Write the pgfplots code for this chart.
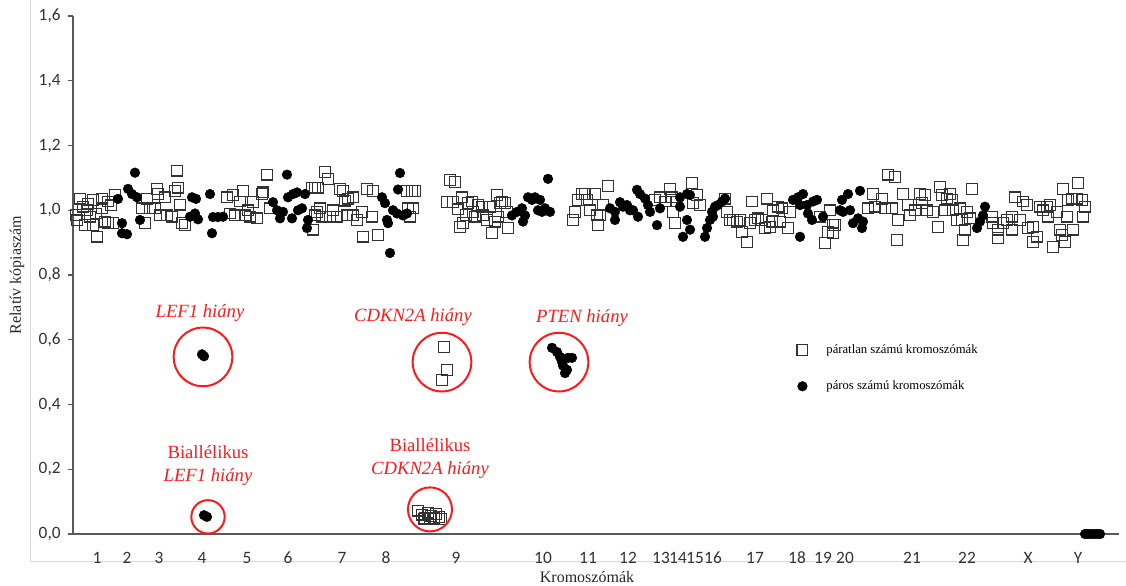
\documentclass[border=0pt]{standalone}
\usepackage{fontspec}
\setmainfont{Liberation Serif}
\newfontfamily\carlito{Carlito}
\usepackage{pgfplots}
\usepackage{pgfplotstable}
\pgfplotsset{compat=1.18}
\definecolor{axisgray}{HTML}{595959}
\definecolor{ticktext}{HTML}{333333}
\definecolor{annred}{HTML}{FF1A1A}

% odd-numbered chromosomes (plus X): genomic position (chart units) and relative copy number
\pgfplotstableread{
x v
76 0.985
77 0.969
80 1.036
83 1.011
85 0.954
87 1.000
88 1.020
90 0.980
93 1.032
93 0.954
96 0.990
97 0.918
102 1.036
102 1.006
105 0.965
108 1.027
108 0.960
111 1.015
113 0.960
115 1.047
142 1.006
145 0.960
147 1.036
150 1.006
155 1.006
157 1.066
158 1.050
160 0.984
165 1.040
167 0.984
172 0.980
175 1.060
177 1.122
178 1.070
180 1.017
182 0.960
185 0.954
227 1.040
230 0.990
233 1.047
235 0.984
240 1.027
243 1.060
245 0.984
248 1.000
250 0.980
253 1.025
257 0.975
262 1.050
263 1.055
267 1.110
270 1.006
312 1.070
313 0.940
315 1.070
315 0.984
317 0.995
318 1.070
320 1.006
322 0.980
325 1.118
328 1.096
330 0.980
333 1.000
337 0.980
340 1.066
343 1.060
345 1.030
347 0.984
348 1.036
353 1.040
353 0.984
357 0.970
362 0.995
363 0.918
367 1.066
372 0.980
373 1.060
378 0.923
407 1.060
408 1.006
410 0.980
412 1.060
413 1.006
415 1.060
447 1.025
450 1.093
453 1.025
455 1.087
458 1.003
460 0.948
462 1.040
463 0.960
466 0.985
468 1.022
472 1.027
473 0.995
475 0.980
478 1.016
482 1.011
483 0.984
487 0.970
490 1.011
492 0.930
495 0.965
497 1.047
498 0.980
500 1.022
502 1.027
505 1.022
507 0.995
508 0.945
444 0.578
447 0.507
442 0.476
418 0.072
422 0.060
424 0.046
425 0.050
428 0.066
430 0.046
431 0.056
434 0.048
436 0.062
439 0.052
441 0.046
573 0.970
575 0.995
578 1.032
582 1.050
585 1.050
587 1.032
590 1.000
595 1.050
597 0.984
598 0.954
600 0.984
603 1.016
608 1.075
655 1.032
660 1.040
665 1.027
670 1.066
672 1.040
673 0.995
675 0.960
677 1.027
692 1.084
693 1.022
697 1.047
700 1.016
725 1.036
727 0.995
730 0.970
733 0.970
737 0.965
740 0.970
742 0.933
747 0.902
750 0.960
752 1.027
755 0.970
758 0.975
762 0.970
765 0.945
767 1.036
770 0.948
772 0.965
773 1.000
778 1.011
780 0.965
782 1.006
788 0.945
790 0.995
820 0.980
825 0.899
828 0.933
830 1.000
833 0.954
833 0.929
835 0.954
868 1.006
873 1.050
875 1.011
882 1.036
885 1.006
888 1.110
892 1.006
895 1.103
897 0.908
898 0.970
903 1.050
908 1.016
910 0.984
915 1.000
920 1.050
922 1.022
925 1.047
927 1.000
933 0.995
938 0.948
940 1.072
942 1.047
945 1.000
947 1.036
950 1.050
952 1.032
953 1.000
957 0.970
960 1.006
962 0.970
963 0.908
965 0.940
967 0.995
970 0.975
972 1.066
992 0.980
993 0.960
998 0.940
998 0.914
1003 0.960
1007 0.970
1012 0.980
1012 0.940
1015 1.040
1020 0.970
1023 1.027
1027 1.016
1028 0.945
1033 0.948
1033 0.902
1037 0.918
1040 1.011
1043 1.000
1047 1.011
1048 0.980
1050 1.016
1053 0.887
1057 0.995
1060 0.940
1062 0.924
1063 1.066
1065 0.902
1067 0.980
1068 1.032
1072 1.036
1073 0.940
1077 1.036
1078 1.084
1082 1.032
1083 0.980
1085 1.011
}\oddchr

% even-numbered chromosomes (plus Y)
\pgfplotstableread{
x v
118 1.035
122 0.960
122 0.929
127 0.926
128 1.066
132 1.050
135 1.116
137 1.040
140 0.970
190 0.980
192 1.040
195 0.990
196 1.035
198 0.972
210 1.050
212 0.929
213 0.979
218 0.979
223 0.980
202 0.555
204 0.549
204 0.058
207 0.053
273 1.025
277 1.000
280 0.975
283 0.995
287 1.110
288 1.040
292 0.975
293 1.050
297 1.055
298 1.000
302 1.006
305 1.050
307 0.945
308 0.970
382 1.040
385 1.022
387 0.970
388 0.960
390 0.868
393 1.000
397 0.990
398 1.064
400 1.115
403 0.984
407 0.990
512 0.984
517 0.995
522 1.006
523 0.965
525 0.984
528 1.040
532 1.032
535 1.040
538 1.000
540 1.032
542 0.995
545 1.006
548 1.097
550 0.995
552 0.575
557 0.562
560 0.547
562 0.531
563 0.520
565 0.497
567 0.507
568 0.544
572 0.544
610 1.006
615 0.995
615 0.970
620 1.025
623 1.011
627 1.016
630 1.000
633 1.000
637 1.063
638 0.980
640 1.050
645 1.036
648 1.016
650 0.995
657 0.954
660 1.006
680 1.040
680 1.011
683 0.918
687 1.050
687 0.970
690 1.047
690 0.940
705 0.918
707 0.945
710 0.970
712 0.995
713 0.980
715 1.011
718 1.016
722 1.027
725 1.036
793 1.032
798 1.040
800 1.016
800 0.918
803 1.050
807 1.016
808 0.990
812 0.970
813 1.027
817 1.032
823 0.980
840 1.000
842 1.032
843 0.995
848 1.050
850 1.000
853 0.960
858 0.975
860 1.060
862 0.945
863 0.965
977 0.945
980 0.965
983 0.984
985 1.011
1085 0.000
1088 0.000
1091 0.000
1094 0.000
1097 0.000
1100 0.000
}\evenchr

\begin{document}
\begin{tikzpicture}
\useasboundingbox (-54.75pt,-38.25pt) rectangle (789.75pt,400.5pt);
% light frame lines of the surrounding table cell
\draw[gray!30, line width=0.6pt] (-32pt,400.5pt) -- (-32pt,-20.25pt) -- (789.75pt,-20.25pt);
\begin{axis}[
  at={(0pt,0pt)}, anchor=south west,
  scale only axis, width=784.5pt, height=388.5pt,
  xmin=73, xmax=1119, ymin=0, ymax=1.6,
  axis lines*=left,
  axis line style={axisgray, line width=1.1pt, -},
  clip=false,
  ytick={0,0.2,0.4,0.6,0.8,1.0,1.2,1.4,1.6},
  yticklabel style={/pgf/number format/fixed, /pgf/number format/fixed zerofill,
    /pgf/number format/precision=1, /pgf/number format/use comma,
    /pgf/number format/assume math mode=true, xshift=-2pt},
  xtick={97,127,159,202,247,288,342,386,456,543,588,628,661,678,695,713,755,797,823,845,912,967,1028,1078},
  xticklabels={1,2,3,4,5,6,7,8,9,10,11,12,13,14,15,16,17,18,19,20,21,22,X,Y},
  xticklabel style={anchor=center, yshift=-14.25pt},
  x tick style={draw=none},
  y tick style={axisgray, line width=0.9pt},
  tick align=outside, major tick length=3.75pt,
  ticklabel style={font=\carlito\fontsize{13}{15}\selectfont, text=ticktext},
  xlabel={Kromoszómák},
  ylabel={Relatív kópiaszám},
  label style={font=\fontsize{12}{14}\selectfont, text=black!85},
  xlabel style={at={(axis description cs:0.4914,0)}, anchor=center, yshift=-32.25pt},
  ylabel style={at={([xshift=-42pt]axis description cs:0,0.5)}, anchor=center},
  legend style={draw=none, fill=none, at={(0.692,0.371)}, anchor=north west,
    font=\fontsize{9.5}{11}\selectfont, row sep=15pt, inner sep=0pt,
    /tikz/every odd column/.append style={column sep=12pt}},
  legend cell align=left,
  legend image code/.code={\draw[#1] plot coordinates {(0pt,0pt)};},
]
\addplot[only marks, mark=square, mark size=4pt, mark options={draw=black!80, line width=0.95pt, fill=none}] table {\oddchr};
\addlegendentry{páratlan számú kromoszómák}
\addplot[only marks, mark=*, mark size=3.6pt, mark options={draw=black, fill=black}] table {\evenchr};
\addlegendentry{páros számú kromoszómák}

% highlighted deletions
\addplot[forget plot, only marks, mark=o, mark size=22pt, mark options={draw=annred, line width=1.5pt}] coordinates {(203,0.547) (442,0.531) (559,0.531)};
\addplot[forget plot, only marks, mark=o, mark size=12.5pt, mark options={draw=annred, line width=1.5pt}] coordinates {(208,0.053)};
\addplot[forget plot, only marks, mark=o, mark size=16.5pt, mark options={draw=annred, line width=1.5pt}] coordinates {(430,0.076)};

\node[annred, font=\itshape\fontsize{14}{17}\selectfont] at (axis cs:200,0.683) {LEF1 hiány};
\node[annred, font=\itshape\fontsize{14}{17}\selectfont] at (axis cs:413,0.670) {CDKN2A hiány};
\node[annred, font=\itshape\fontsize{14}{17}\selectfont] at (axis cs:582,0.667) {PTEN hiány};
\node[annred, align=center, font=\fontsize{14}{17.25}\selectfont] at (axis cs:208,0.21) {Biallélikus\\\textit{LEF1 hiány}};
\node[annred, align=center, font=\fontsize{14}{17.25}\selectfont] at (axis cs:430,0.233) {Biallélikus\\\textit{CDKN2A hiány}};
\end{axis}
\end{tikzpicture}
\end{document}
